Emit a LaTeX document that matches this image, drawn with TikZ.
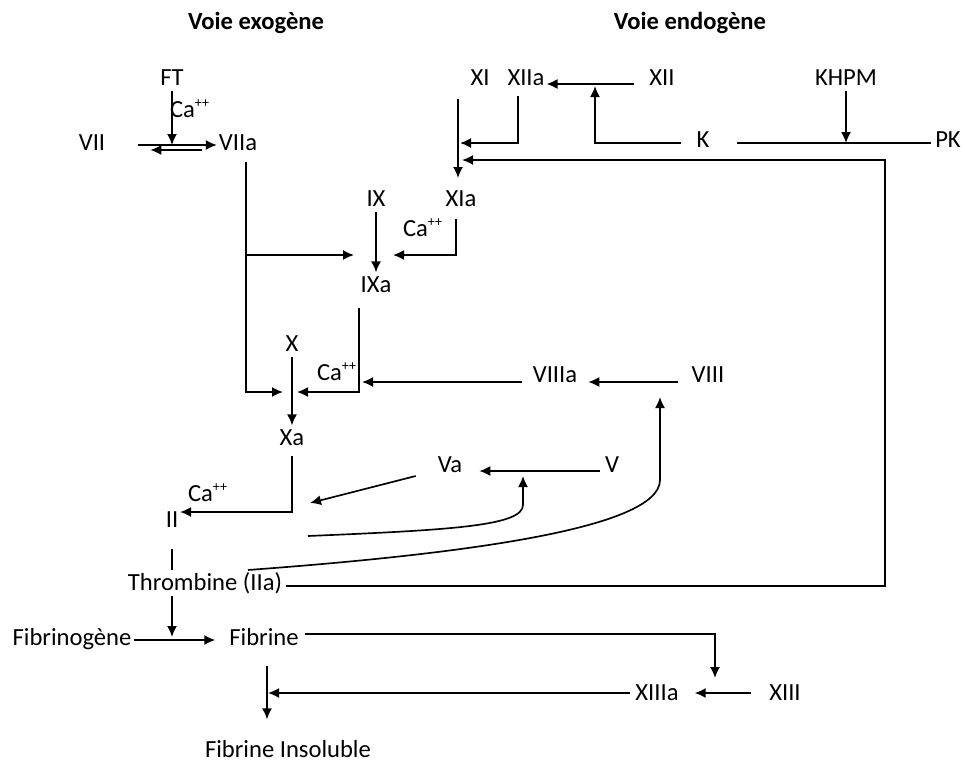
\documentclass[tikz,border=0pt]{standalone}
\usepackage{fontspec}
\setmainfont{Carlito}
\usetikzlibrary{arrows.meta,calc}
\newcommand{\calc}{Ca\textsuperscript{\fontsize{8}{8}\selectfont ++}}

\begin{document}
\begin{tikzpicture}[x=0.2mm, y=-0.2mm, font=\fontsize{14}{16}\selectfont, >={Latex[length=2.2mm,width=2mm]},
  fac/.style={inner sep=1pt, text height=10pt, text depth=2pt},
  ttl/.style={fac, font=\fontsize{14}{16}\selectfont\bfseries},
  flow/.style={->, line width=0.95pt},
  link/.style={line width=0.95pt}]
\useasboundingbox (0,0) rectangle (965,763);
\node[ttl] (exo) at (256,22) {Voie exogène};
\node[ttl] (endo) at (690,22) {Voie endogène};
% exogenous side
\node[fac] (ft) at (172,78) {FT};
\node[fac] (ca1) at (190,110) {\calc};
\node[fac] (vii) at (92,143) {VII};
\node[fac] (viia) at (238,143) {VIIa};
% endogenous side
\node[fac] (xi) at (480,78) {XI};
\node[fac] (xiia) at (526,78) {XIIa};
\node[fac] (xii) at (662,78) {XII};
\node[fac] (khpm) at (846,78) {KHPM};
\node[fac] (k) at (703,140) {K};
\node[fac] (pk) at (948,140) {PK};
\node[fac] (ix) at (376,199) {IX};
\node[fac] (xia) at (461,199) {XIa};
\node[fac] (ca2) at (423,229) {\calc};
\node[fac] (ixa) at (376,285) {IXa};
\node[fac] (x) at (292,344) {X};
\node[fac] (ca3) at (337,373) {\calc};
\node[fac] (viiia) at (555,375) {VIIIa};
\node[fac] (viii) at (708,375) {VIII};
\node[fac] (xa) at (292,438) {Xa};
\node[fac] (va) at (450,465) {Va};
\node[fac] (v) at (612,465) {V};
\node[fac] (ca4) at (208,494) {\calc};
\node[fac] (ii) at (172,520) {II};
\node[fac] (thr) at (205,583) {Thrombine (IIa)};
\node[fac] (fbg) at (72,638) {Fibrinogène};
\node[fac] (fib) at (264,638) {Fibrine};
\node[fac] (xiiia) at (657,693) {XIIIa};
\node[fac] (xiii) at (785,693) {XIII};
\node[fac] (fins) at (288,750) {Fibrine Insoluble};
% junctions
\coordinate (cft) at (172,145);
\coordinate (cvbr) at (246,255);
\coordinate (cix) at (376,255);
\coordinate (cx) at (292,392);
\coordinate (cviii) at (362,382);
\coordinate (cxi) at (458,178);
\coordinate (cxiia) at (460,143);
\coordinate (cfb) at (462,160);
\coordinate (cright) at (885,160);
\coordinate (ck) at (595,86);
\coordinate (ckh) at (846,143);
\coordinate (cii) at (180,512);
\coordinate (cva) at (310,503);
\coordinate (c1s) at (308,536);
\coordinate (c1e) at (523,476);
\coordinate (c2s) at (248,570);
\coordinate (c2e) at (660,397);
\coordinate (cthr) at (172,637);
\coordinate (cxiii) at (715,678);
\coordinate (cfins) at (268,693);
% extrinsic pathway
\draw[flow] (ft) -- (cft);
\draw[flow] ($(vii.east)+(31,2)$) -- ($(viia.west)+(0,2)$);
\draw[flow] ($(viia.west)+(-15,7)$) -- ($(vii.east)+(43,7)$);
\draw[flow] ($(viia.south)+(8,6)$) |- ($(cx)+(-9,0)$);
\draw[flow] (cvbr) -- ($(cix)+(-22,0)$);
% intrinsic pathway
\draw[flow] ($(xii.west)+(-13,6)$) -- ($(xiia.east)+(0,6)$);
\draw[flow] ($(k.west)+(-14,3)$) -| (ck);
\draw[link] ($(k.east)+(25,3)$) -- ($(pk.west)+(-2,3)$);
\draw[flow] (khpm) -- (ckh);
\draw[flow] ($(xi.south)+(-22,8)$) -- (cxi);
\draw[flow] ($(xiia.south)+(-8,5)$) |- (cxiia);
\draw[flow] (ix) -- (ixa);
\draw[flow] ($(xia.south)+(-5,7)$) |- ($(cix)+(17,0)$);
\draw[flow] ($(ixa.south)+(-17,10)$) |- ($(cx)+(5,0)$);
\draw[flow] (x) -- (xa);
\draw[flow] ($(viiia.west)+(-9,7)$) -- (cviii);
\draw[flow] ($(viii.west)+(-12,7)$) -- ($(viiia.east)+(9,7)$);
% common pathway
\draw[flow] ($(xa.south)+(0,5)$) |- (cii);
\draw[flow] ($(va.west)+(-20,11)$) -- (cva);
\draw[flow] ($(v.west)+(-3,6)$) -- ($(va.east)+(15,6)$);
\draw[flow] (c1s) .. controls (450,530) and (523,526) .. (523,505) -- (c1e);
\draw[flow] (c2s) .. controls (450,555) and (660,530) .. (660,480) -- (c2e);
\draw[link] ($(ii.south)+(0,16)$) -- (ii |- thr.north);
\draw[flow] (ii |- thr.south) -- (cthr);
\draw[flow] ($(thr.east)+(2,3)$) -| (cright) -- (cfb);
\draw[flow] ($(fbg.east)+(0,2)$) -- ($(fib.west)+(-12,2)$);
\draw[flow] ($(fib.east)+(4,-4)$) -| (cxiii);
\draw[flow] ($(xiii.west)+(-16,0)$) -- ($(xiiia.east)+(14,0)$);
\draw[flow] ($(xiiia.west)+(-3,0)$) -- (cfins);
\draw[flow] ($(fib.south)+(3,15)$) -- ($(fins.north)+(-21,-18)$);
\end{tikzpicture}
\end{document}
